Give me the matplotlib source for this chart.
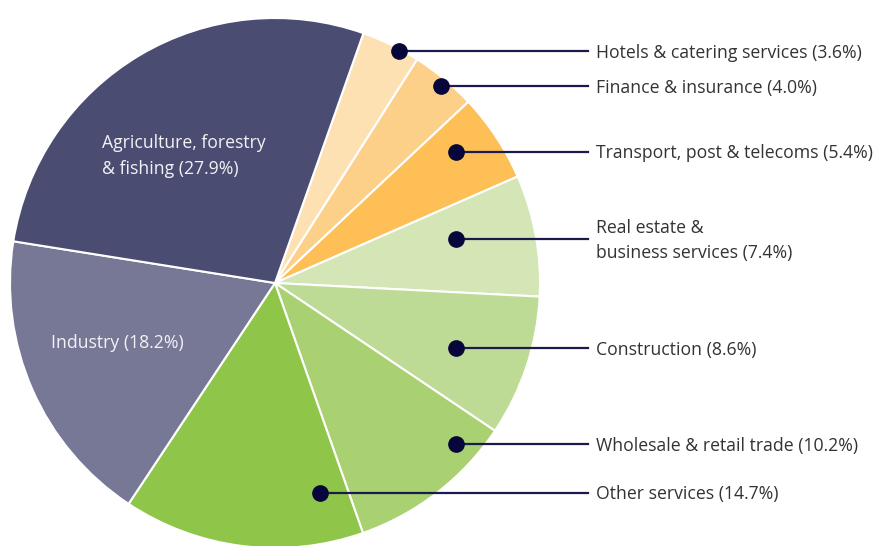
import matplotlib
matplotlib.use("Agg")
import matplotlib.pyplot as plt

plt.rcParams['font.family'] = ['Open Sans', 'DejaVu Sans']

# shares of the economy, clockwise from the top
sectors = ['Hotels & catering services', 'Finance & insurance', 'Transport, post & telecoms',
           'Real estate &\nbusiness services', 'Construction', 'Wholesale & retail trade',
           'Other services', 'Industry', 'Agriculture, forestry\n& fishing']
shares = [3.6, 4.0, 5.4, 7.4, 8.6, 10.2, 14.7, 18.2, 27.9]
colors = ['#fde1b3', '#fdd08a', '#fdbf56', '#d4e6b5', '#bedb96', '#a9d071',
          '#8fc548', '#777796', '#4b4c72']

# callout anchors (dot inside slice, label y) in pixels from top-left
dot_x = [399, 441, 456, 456, 456, 456, 320]
label_y = [51, 86, 152, 239, 348, 444, 493]

W, H = 876, 546
fig = plt.figure(figsize=(W / 100, H / 100), dpi=100)
ax = fig.add_axes([0, 0, 1, 1])

cx, cy, r = 275, H - 283, 265
ax.pie(shares, colors=colors, startangle=70.5, counterclock=False,
       radius=r, center=(cx, cy), frame=False,
       wedgeprops=dict(edgecolor='white', linewidth=1.5))

ax.set_xlim(0, W)
ax.set_ylim(0, H)
ax.set_aspect('equal')
ax.axis('off')

fs = 12.7
line_end = 588
for i in range(7):
    ly = H - label_y[i]
    ax.plot([dot_x[i], line_end], [ly, ly], color='#1b1b4b', lw=1.6, zorder=3)
    ax.plot(dot_x[i], ly, 'o', color='#06063a', ms=11, zorder=4)
    ax.text(596, ly - 1.5, f'{sectors[i]} ({shares[i]:.1f}%)', ha='left', va='center',
            fontsize=fs, color='#333333', linespacing=1.5)

ax.text(102, H - 156, f'{sectors[8]} ({shares[8]:.1f}%)', ha='left', va='center',
        fontsize=fs, color='#f2f2f5', linespacing=1.5)
ax.text(51, H - 343, f'{sectors[7]} ({shares[7]:.1f}%)', ha='left', va='center',
        fontsize=fs, color='#f2f2f5')

fig.savefig('out.png', dpi=100)
